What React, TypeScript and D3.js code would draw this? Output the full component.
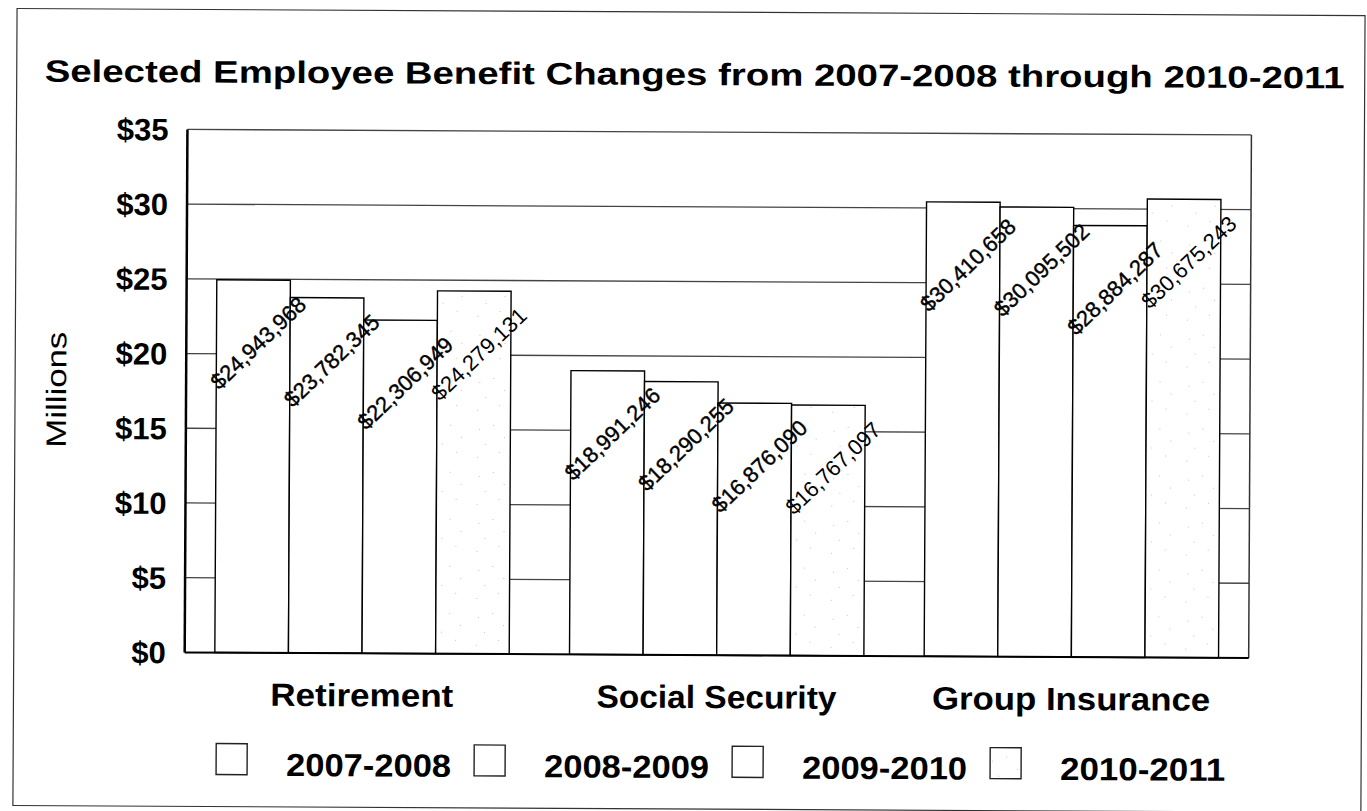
import React from "react";
import * as d3 from "d3";

const categories = ["Retirement", "Social Security", "Group Insurance"];
const seriesNames = ["2007-2008", "2008-2009", "2009-2010", "2010-2011"];
const values2007_2008 = [24943968, 18991246, 30410658];
const values2008_2009 = [23782345, 18290255, 30095502];
const values2009_2010 = [22306949, 16876090, 28884287];
const values2010_2011 = [24279131, 16767097, 30675243];
const yTicks = [0, 5, 10, 15, 20, 25, 30, 35];
const titleText = "Selected Employee Benefit Changes from 2007-2008 through 2010-2011";
const yAxisTitle = "Millions";

const W = 1367;
const H = 811;
const plot = { left: 186, right: 1250, top: 132, bottom: 655 };
const FONT = "'Liberation Sans', Arial, Helvetica, sans-serif";

export default function App() {
  const series = [values2007_2008, values2008_2009, values2009_2010, values2010_2011];
  const y = d3.scaleLinear().domain([0, 35]).range([plot.bottom, plot.top]);
  const x0 = d3
    .scaleBand<string>()
    .domain(categories)
    .range([plot.left, plot.right])
    .paddingInner(0.17)
    .paddingOuter(0.085);
  const x1 = d3.scaleBand<string>().domain(seriesNames).range([0, x0.bandwidth()]).padding(0);
  const fmt = d3.format("$,");

  const catWidths: Record<string, number> = {
    Retirement: 183,
    "Social Security": 240,
    "Group Insurance": 278,
  };

  const dots = [
    [5, 7], [19, 3], [30, 15], [11, 22], [25, 30], [3, 35],
  ];

  return (
    <svg
      width={W}
      height={H}
      style={{ position: "absolute", left: 0, top: 0, display: "block", background: "#fff" }}
      fontFamily={FONT}
    >
      <defs>
        <pattern id="stipple" width="43" height="47" patternUnits="userSpaceOnUse">
          <rect width="43" height="47" fill="#fff" />
          {dots.map((d, i) => (
            <rect key={i} x={d[0]} y={d[1]} width={1} height={1} fill="#c4c4c4" />
          ))}
        </pattern>
      </defs>
      <rect x={0} y={0} width={W} height={H} fill="#fff" />
      <g transform="rotate(0.3 683 405)">
        {/* outer frame */}
        <rect x={15} y={12} width={1348} height={797} fill="none" stroke="#333" strokeWidth={1.2} />

        {/* title */}
        <text
          x={43}
          y={85}
          fontSize={31}
          fontWeight="bold"
          textLength={1300}
          lengthAdjust="spacingAndGlyphs"
          fill="#000"
        >
          {titleText}
        </text>

        {/* gridlines */}
        {yTicks
          .filter((t) => t > 0 && t < 35)
          .map((t) => (
            <line
              key={t}
              x1={plot.left}
              x2={plot.right}
              y1={y(t)}
              y2={y(t)}
              stroke="#444"
              strokeWidth={1.3}
            />
          ))}

        {/* plot border */}
        <line x1={plot.left} x2={plot.right} y1={y(35)} y2={y(35)} stroke="#444" strokeWidth={1.3} />
        <line x1={plot.right} x2={plot.right} y1={y(35)} y2={y(0)} stroke="#333" strokeWidth={1.5} />

        {/* bars */}
        {categories.map((c, ci) => (
          <g key={c} transform={`translate(${x0(c)},0)`}>
            {seriesNames.map((s, si) => {
              const v = series[si][ci] / 1e6;
              return (
                <rect
                  key={s}
                  x={x1(s)}
                  y={y(v)}
                  width={x1.bandwidth()}
                  height={y(0) - y(v)}
                  fill={si === 3 ? "url(#stipple)" : "#fff"}
                  stroke="#000"
                  strokeWidth={1.4}
                />
              );
            })}
          </g>
        ))}

        <line x1={plot.left} x2={plot.left} y1={y(35)} y2={y(0)} stroke="#000" strokeWidth={2.5} />
        <line x1={plot.left} x2={plot.right} y1={y(0)} y2={y(0)} stroke="#000" strokeWidth={2} />

        {/* data labels */}
        {categories.map((c, ci) =>
          seriesNames.map((s, si) => {
            const v = series[si][ci];
            const cx = (x0(c) as number) + (x1(s) as number) + x1.bandwidth() / 2 + 5;
            const cy = y(v / 1e6) + 63;
            return (
              <text
                key={c + s}
                transform={`translate(${cx},${cy}) rotate(-44)`}
                textAnchor="middle"
                dominantBaseline="central"
                fontSize={22}
                fill="#000"
                stroke={si === 3 ? "none" : "#000"}
                strokeWidth={si === 3 ? 0 : 0.4}
                textLength={122}
                lengthAdjust="spacingAndGlyphs"
              >
                {fmt(v)}
              </text>
            );
          })
        )}

        {/* y tick labels */}
        {yTicks.map((t) => (
          <text
            key={t}
            x={167}
            y={y(t)}
            dy="0.36em"
            textAnchor="end"
            fontSize={31}
            fontWeight="bold"
            fill="#000"
          >
            {`$${t}`}
          </text>
        ))}

        {/* y axis title */}
        <text
          transform={`translate(66,393) rotate(-90)`}
          textAnchor="middle"
          fontSize={28}
          fill="#000"
          textLength={116}
          lengthAdjust="spacingAndGlyphs"
        >
          {yAxisTitle}
        </text>

        {/* category labels */}
        {categories.map((c) => (
          <text
            key={c}
            x={(x0(c) as number) + x0.bandwidth() / 2}
            y={708}
            textAnchor="middle"
            fontSize={32}
            fontWeight="bold"
            fill="#000"
            textLength={catWidths[c]}
            lengthAdjust="spacingAndGlyphs"
          >
            {c}
          </text>
        ))}

        {/* legend */}
        {seriesNames.map((s, i) => {
          const bx = 218 + i * 258;
          return (
            <g key={s}>
              <rect
                x={bx}
                y={746}
                width={31}
                height={31}
                fill={i === 3 ? "url(#stipple)" : "#fff"}
                stroke="#222"
                strokeWidth={1.4}
              />
              <text
                x={bx + 70}
                y={778}
                fontSize={32}
                fontWeight="bold"
                fill="#000"
                textLength={165}
                lengthAdjust="spacingAndGlyphs"
              >
                {s}
              </text>
            </g>
          );
        })}
      </g>
    </svg>
  );
}
